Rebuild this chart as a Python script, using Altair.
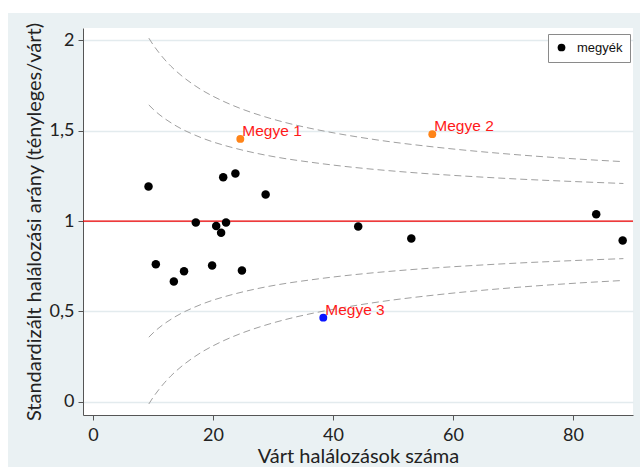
import altair as alt
import pandas as pd

# ---- data ----
county_x = [9.25, 10.47, 13.47, 15.17, 17.13, 19.85, 20.53, 21.35, 21.7, 22.17,
            23.73, 24.82, 28.77, 44.2, 53.05, 83.87, 88.28]
county_y = [1.191, 0.761, 0.665, 0.722, 0.992, 0.754, 0.972, 0.935, 1.243, 0.992,
            1.263, 0.726, 1.147, 0.970, 0.903, 1.038, 0.892]

highlight_names = ["Megye 1", "Megye 2", "Megye 3"]
highlight_x = [24.55, 56.55, 38.38]
highlight_y = [1.455, 1.481, 0.465]
highlight_colors = ["#ff8418", "#ff8418", "#0a14ff"]

limit_x = [9.3, 10, 11, 12, 13, 14, 15, 16.5, 18, 20, 22, 25, 28, 32, 36, 40, 45, 50, 55,
           60, 70, 80, 88.4]
outer_upper = [2.013, 1.977, 1.932, 1.892, 1.857, 1.826, 1.798, 1.761, 1.728, 1.691, 1.659,
               1.618, 1.584, 1.546, 1.515, 1.489, 1.461, 1.437, 1.417, 1.399, 1.369, 1.345, 1.329]
inner_upper = [1.643, 1.620, 1.591, 1.566, 1.544, 1.524, 1.506, 1.483, 1.462, 1.438, 1.418,
               1.392, 1.370, 1.346, 1.327, 1.310, 1.292, 1.277, 1.264, 1.253, 1.234, 1.219, 1.208]
inner_lower = [0.357, 0.380, 0.409, 0.434, 0.456, 0.476, 0.494, 0.517, 0.538, 0.562, 0.582,
               0.608, 0.630, 0.654, 0.673, 0.690, 0.708, 0.723, 0.736, 0.747, 0.766, 0.781, 0.792]
outer_lower = [-0.013, 0.023, 0.068, 0.108, 0.143, 0.174, 0.202, 0.239, 0.272, 0.309, 0.341,
               0.382, 0.416, 0.454, 0.485, 0.511, 0.539, 0.563, 0.583, 0.601, 0.631, 0.655, 0.671]

x_ticks = [0, 20, 40, 60, 80]
y_ticks = [0, 0.5, 1, 1.5, 2]
reference_level = [1]

# ---- tables ----
points = pd.DataFrame({"x": county_x, "y": county_y, "grp": ["megyék"] * len(county_x)})
hl = pd.DataFrame({"x": highlight_x, "y": highlight_y, "name": highlight_names, "col": highlight_colors})
limits = pd.concat([
    pd.DataFrame({"x": limit_x, "y": vals, "series": name})
    for name, vals in [("ou", outer_upper), ("iu", inner_upper), ("il", inner_lower), ("ol", outer_lower)]
])
ref = pd.DataFrame({"y": reference_level})
deco = pd.DataFrame({"a": [0]})

AX = "Lato"
xscale = alt.Scale(domain=[-1.67, 90.0], nice=False, zero=False)
yscale = alt.Scale(domain=[-0.074, 2.069], nice=False, zero=False)

xaxis = alt.Axis(values=x_ticks, grid=False, title="Várt halálozások száma",
                 domainColor="#555555", tickColor="#555555", tickSize=5,
                 labelFont=AX, labelFontSize=18, labelColor="#222222", labelPadding=6,
                 titleFont=AX, titleFontSize=20, titleFontWeight="normal", titleColor="#222222",
                 titlePadding=2)
yaxis = alt.Axis(values=y_ticks, grid=True, gridColor="#e3ebee", gridWidth=1.5,
                 title="Standardizált halálozási arány (tényleges/várt)",
                 labelExpr="replace(format(datum.value, '~g'), '.', ',')",
                 domainColor="#555555", tickColor="#555555", tickSize=5,
                 labelFont=AX, labelFontSize=18, labelColor="#222222", labelPadding=4,
                 titleFont=AX, titleFontSize=20, titleFontWeight="normal", titleColor="#222222",
                 titlePadding=5)

strip_top = alt.Chart(deco).mark_rect(color="white").encode(
    x=alt.value(-83), x2=alt.value(557), y=alt.value(-28), y2=alt.value(-15))
strip_left = alt.Chart(deco).mark_rect(color="white").encode(
    x=alt.value(-83), x2=alt.value(-75), y=alt.value(-28), y2=alt.value(439))

lines = alt.Chart(limits).mark_line(color="#a0a0a0", strokeWidth=1, strokeDash=[7, 4],
                                    interpolate="monotone").encode(
    x=alt.X("x:Q", scale=xscale, axis=xaxis),
    y=alt.Y("y:Q", scale=yscale, axis=yaxis),
    detail="series:N",
    order="x:Q",
)

rule = alt.Chart(ref).mark_rule(color="#f00000", strokeWidth=1.3).encode(y=alt.Y("y:Q"))

dots = alt.Chart(points).mark_circle(size=72, opacity=1).encode(
    x="x:Q", y="y:Q",
    color=alt.Color("grp:N", scale=alt.Scale(domain=["megyék"], range=["black"]),
                    legend=alt.Legend(title=None, orient="none", legendX=465, legendY=6,
                                      fillColor="white", strokeColor="#8a8a8a", padding=7,
                                      labelFont="Liberation Sans", labelFontSize=13,
                                      labelColor="#111111", symbolSize=60, labelOffset=9,
                                      symbolType="circle")),
)

hl_dots = alt.Chart(hl).mark_circle(size=62, opacity=1).encode(
    x="x:Q", y="y:Q", fill=alt.Fill("col:N", scale=None))

labels = alt.Chart(hl).mark_text(align="left", baseline="alphabetic", dx=2, dy=-3,
                                 font="Liberation Sans", fontSize=15.5, color="#ff1a1a").encode(
    x="x:Q", y="y:Q", text="name:N")

chart = alt.layer(strip_top, strip_left, lines, rule, dots, hl_dots, labels).properties(
    width=550, height=387,
    background="#eaf1f3",
    padding={"left": 83, "top": 28, "right": 7, "bottom": 52},
    autosize=alt.AutoSizeParams(type="none"),
).configure_view(fill="white", stroke=None)

chart.save("out.html", embed_options={"renderer": "svg", "actions": False})
